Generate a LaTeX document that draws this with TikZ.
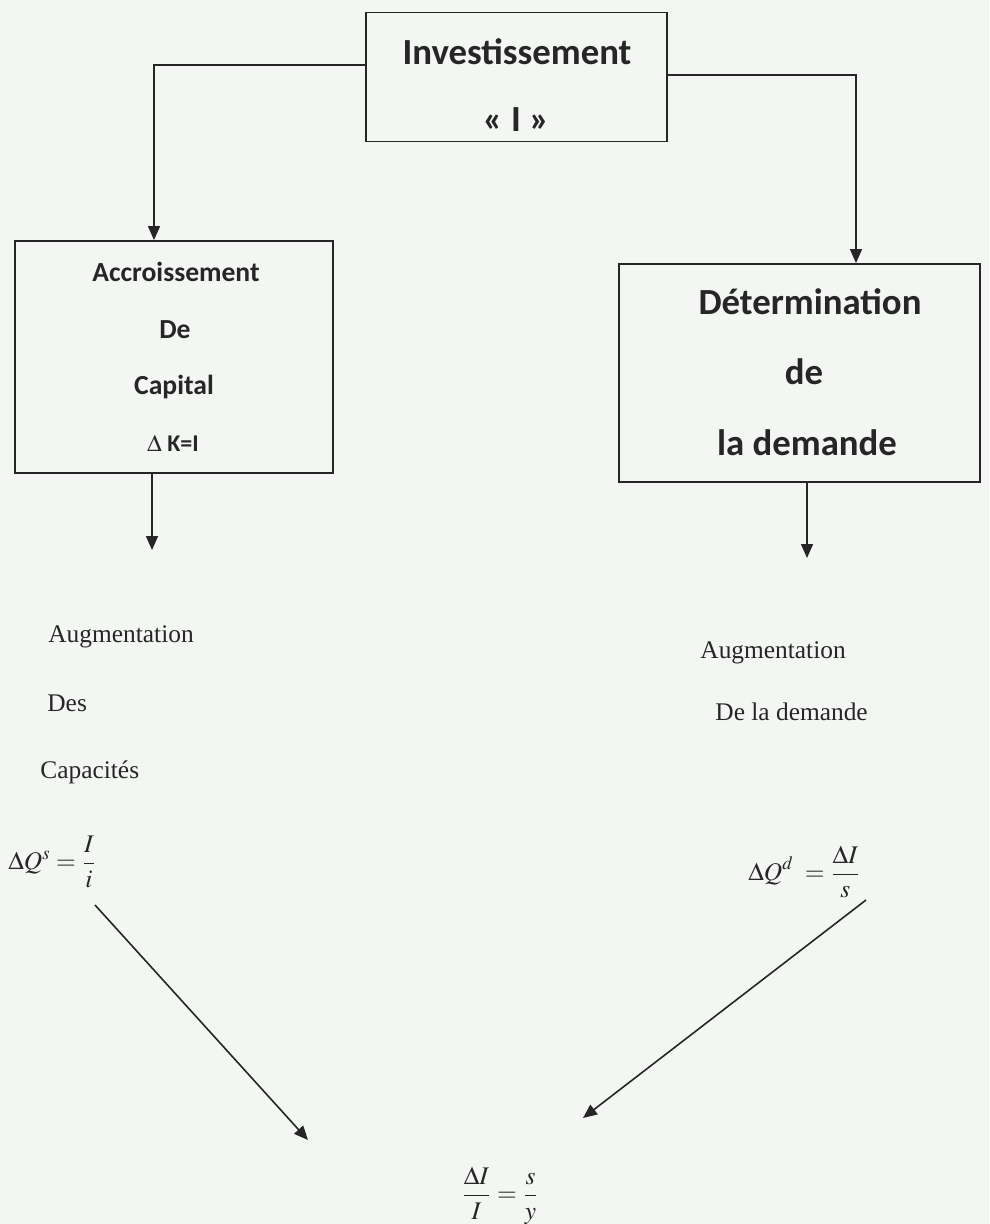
\documentclass[tikz,border=0pt]{standalone}
\usepackage{amsmath}
\usepackage{mathptmx}
\usepackage[no-math]{fontspec}
\setmainfont{Liberation Serif}
\newfontfamily\boxfont{Carlito}
\usetikzlibrary{arrows.meta}
\definecolor{paper}{RGB}{243,246,243}
\definecolor{ink}{RGB}{38,38,38}
\tikzset{
  boxA/.style={ draw=ink, line width=0.9pt, inner sep=0pt }
}
\tikzset{
  bigtxt/.style={ text=ink, font=\boxfont\bfseries\fontsize{18.4}{22}\selectfont }
}
\tikzset{
  smalltxt/.style={ text=ink, font=\boxfont\bfseries\fontsize{13.8}{16}\selectfont }
}
\tikzset{
  plaintxt/.style={ text=ink, anchor=west, inner sep=0pt, font=\fontsize{12.7}{15}\selectfont }
}
\tikzset{
  arr/.style={ draw=ink, line width=0.8pt, -{Triangle[width=6pt,length=7pt]} }
}

\begin{document}
\begin{tikzpicture}[x=0.5pt, y=-0.5pt]
      \fill[paper] (0,0) rectangle (989,1224);
      \useasboundingbox (0,0) rectangle (989,1224);

      % the three boxes
      \node[boxA, minimum width=150.5pt, minimum height=64.5pt] (invest) at (516.5,77) {};
      \node[bigtxt] (investT) at (517,52) {Investissement};
      \node[bigtxt] (investI) at (516,120) {« I »};

      \node[boxA, minimum width=159pt, minimum height=116pt] (accr) at (174,357) {};
      \node[smalltxt] (accrA) at (176,272) {Accroissement};
      \node[smalltxt] (accrB) at (175,330) {De};
      \node[smalltxt] (accrC) at (174,387) {Capital};
      \node[text=ink, font=\boxfont\bfseries\fontsize{12}{14}\selectfont] (accrD) at (173,443) {{\mdseries$\Delta$} K=I};

      \node[boxA, minimum width=180.5pt, minimum height=109pt] (dem) at (799.5,373) {};
      \node[bigtxt] (demA) at (810,302) {Détermination};
      \node[bigtxt] (demB) at (804,372) {de};
      \node[bigtxt] (demC) at (807,443) {la demande};

      \draw[arr] (invest.west) ++(0,-12) -| ([xshift=-10pt]accr.north);
      \draw[arr] (invest.east) ++(0,-2) -| ([xshift=28.25pt]dem.north);

      \coordinate (capEnd) at (152,550);
      \coordinate (demEnd) at (807,558);
      \draw[arr] ([xshift=-11pt]accr.south) -- (capEnd);
      \draw[arr] ([xshift=3.75pt]dem.south) -- (demEnd);

      % texts under the boxes
      \node[plaintxt] (augL) at (48,637) {Augmentation};
      \node[plaintxt] (desL) at (47,703) {Des};
      \node[plaintxt] (capL) at (40,772) {Capacités};
      \node[plaintxt] (augR) at (700,653) {Augmentation};
      \node[plaintxt] (delaR) at (715,712) {De la demande};

      \node[plaintxt] (qs) at (8,862) {$\displaystyle \Delta Q^{s}=\frac{I}{i}$};
      \node[plaintxt] (qd) at (748,872) {$\displaystyle \Delta Q^{d}\;=\frac{\Delta I}{s}$};
      \node[text=ink, font=\fontsize{12.7}{15}\selectfont] (res) at (500,1196) {$\displaystyle \frac{\Delta I}{I}=\frac{s}{y}$};

      \coordinate (qsFrom) at (95,905);
      \coordinate (qsTo) at (308,1140);
      \coordinate (qdFrom) at (866,900);
      \coordinate (qdTo) at (583,1118);
      \draw[arr] (qsFrom) -- (qsTo);
      \draw[arr] (qdFrom) -- (qdTo);
    \end{tikzpicture}
\end{document}
